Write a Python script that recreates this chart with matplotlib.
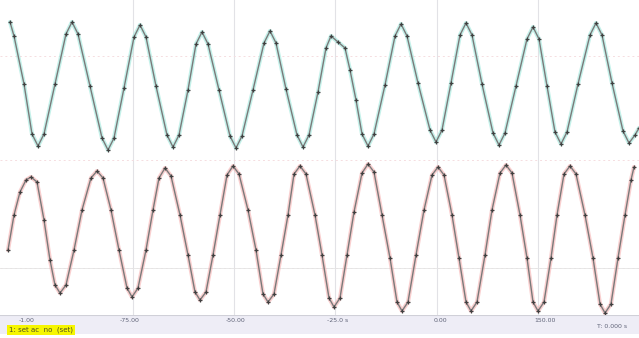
import matplotlib
matplotlib.use("Agg")
import matplotlib.pyplot as plt

# screen readings of the two scope traces (x = sample column, y = screen row)
ch1_x = [10, 14, 24, 32, 38, 44, 55, 66, 72, 78, 90, 102, 108, 114, 124, 134, 140,
         146, 156, 167, 173, 179, 188, 196, 202, 208, 219, 230, 236, 242, 253, 264,
         270, 276, 286, 297, 303, 309, 318, 326, 331, 338, 345, 350, 356, 362, 368,
         374, 385, 395, 401, 407, 418, 430, 436, 442, 451, 460, 466, 472, 482, 493,
         499, 505, 516, 527, 533, 539, 547, 555, 561, 567, 578, 590, 596, 602, 612,
         623, 629, 635, 639]
ch1_y = [22, 36, 84, 134, 146, 134, 84, 34, 22, 34, 86, 138, 150, 138, 88, 37, 25,
         37, 86, 135, 147, 135, 90, 44, 32, 44, 90, 136, 148, 136, 90, 43,
         31, 43, 89, 135, 147, 135, 92, 48, 36, 42, 48, 70, 100, 134, 146,
         134, 85, 36, 24, 36, 83, 130, 142, 130, 83, 35, 23, 35, 84, 133,
         145, 133, 86, 39, 27, 39, 86, 132, 144, 132, 84, 35, 23, 35, 83,
         131, 143, 135, 128]

ch2_x = [8, 14, 20, 26, 31, 37, 44, 50, 55, 60, 66, 74, 82, 91, 97, 103, 111, 119,
         127, 132, 138, 146, 153, 159, 165, 171, 180, 188, 195, 200, 206, 213, 220,
         227, 233, 239, 248, 256, 263, 268, 274, 281, 288, 294, 300, 306, 315, 322,
         329, 334, 340, 347, 354, 362, 368, 374, 382, 390, 397, 402, 408, 416, 424,
         432, 438, 444, 452, 459, 466, 471, 477, 485, 492, 500, 506, 512, 520, 527,
         533, 538, 544, 551, 557, 564, 570, 576, 585, 593, 600, 605, 611, 618, 625,
         631, 634]
ch2_y = [250, 215, 192, 180, 177, 182, 220, 260, 285, 293, 285, 250, 210, 178, 171,
         178, 210, 250, 288, 297, 288, 250, 210, 178, 168, 176, 215, 255, 292, 300,
         292, 255, 215, 175, 166, 174, 210, 250, 294, 302, 294, 255, 215, 174, 166,
         174, 215, 255, 298, 307, 298, 255, 212, 173, 164, 172, 215, 258, 302, 311,
         302, 255, 210, 175, 167, 175, 215, 258, 302, 311, 302, 255, 210, 173, 165,
         173, 215, 258, 302, 311, 302, 258, 215, 174, 166, 174, 215, 258, 304, 313,
         304, 258, 215, 180, 167]

grid_x = [133, 234, 335, 437, 538]
grid_y = [56, 160, 268]
tick_pos = [27, 130, 236, 338, 440, 545]
tick_text = ["-1.00", "-75.00", "-50.00", "-25.0 s", "0.00", "150.00"]
status_text = "1: set ac  no  (set)"
readout_text = "T: 0.000 s"

fig = plt.figure(figsize=(6.39, 3.38), dpi=100)
fig.patch.set_facecolor("white")

ax = fig.add_axes([0, 1 - 316 / 338, 1, 316 / 338])
ax.set_xlim(0, 639)
ax.set_ylim(316, 0)
ax.axis("off")

for gx in grid_x:
    ax.axvline(gx, color="#e2e2e6", lw=0.8, zorder=0)
for gy in grid_y:
    ax.axhline(gy, color="#f5dde0", lw=0.7, ls=(0, (2, 3)), zorder=0)
ax.axhline(268, color="#e4e4e4", lw=0.6, zorder=0)

# glow under each trace, then the trace and its sample marks
ax.plot(ch1_x, ch1_y, color="#9ee8dc", lw=3.0, alpha=0.6, zorder=1,
        solid_capstyle="round")
ax.plot(ch1_x, ch1_y, color="#7a7a7a", lw=1.0, zorder=2)
ax.plot(ch1_x, ch1_y, ls="none", marker="+", ms=3.5, mew=0.9, color="#404040", zorder=3)

ax.plot(ch2_x, ch2_y, color="#f5b0b0", lw=3.0, alpha=0.6, zorder=1,
        solid_capstyle="round")
ax.plot(ch2_x, ch2_y, color="#7a7a7a", lw=1.0, zorder=2)
ax.plot(ch2_x, ch2_y, ls="none", marker="+", ms=3.5, mew=0.9, color="#404040", zorder=3)

# lower readout band
band = fig.add_axes([0, 1 - 334 / 338, 1, 19 / 338])
band.set_xlim(0, 639)
band.set_ylim(19, 0)
band.set_facecolor("#eeedf6")
for s in band.spines.values():
    s.set_visible(False)
band.set_xticks([])
band.set_yticks([])
band.axhline(0.4, color="#d0d0d8", lw=0.8)

for px, txt in zip(tick_pos, tick_text):
    band.text(px, 6, txt, ha="center", va="center", fontsize=4.5, color="#606478")
band.text(612, 12, readout_text, ha="center", va="center", fontsize=4.5,
          color="#606478")
band.text(9, 15, status_text, ha="left", va="center", fontsize=5, color="#505020",
          bbox=dict(boxstyle="square,pad=0.25", fc="#f6f600", ec="none"))

fig.savefig("out.png", dpi=100, facecolor="white")
